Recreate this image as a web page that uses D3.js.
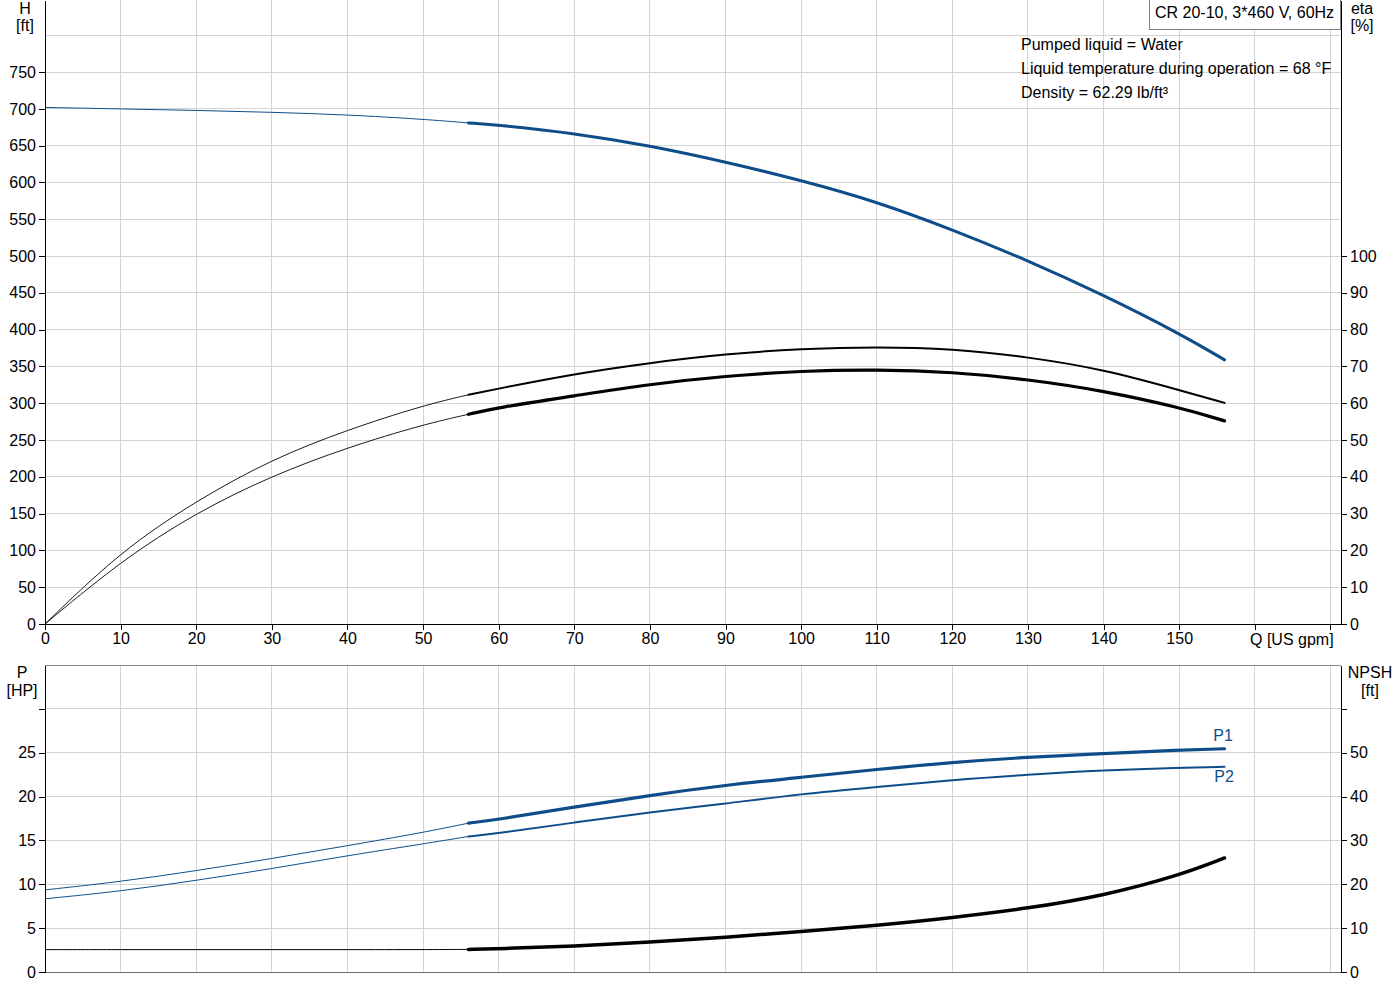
<!DOCTYPE html>
<html>
<head>
<meta charset="utf-8">
<script src="https://cdn.jsdelivr.net/npm/d3@7"></script>
<style>
  body { margin: 0; background: #fff; }
  svg { display: block; font-family: Arial, "Liberation Sans", sans-serif; }
  .grid line { stroke: #d4d4d4; stroke-width: 1; shape-rendering: crispEdges; }
  .axis text { font-size: 16px; fill: #000; font-family: Arial, "Liberation Sans", sans-serif; }
  .axis path, .axis line { stroke: #000; shape-rendering: crispEdges; }
</style>
</head>
<body>
<div id="chart"></div>
<script>
// flow points (US gpm) shared by every curve
const flow = [0, 10, 20, 30, 40, 50, 56, 60, 70, 80, 90, 100, 110, 120, 130, 140, 150, 156];
const head = [702, 700, 698, 695.5, 692, 686, 681, 678, 667, 650, 628, 603, 574, 536, 494, 447, 395, 359];
const etaPump = [0, 19.8, 33.5, 44.8, 52.8, 59.4, 62.3, 64, 68, 71, 73.4, 74.8, 75.3, 74.8, 72.6, 69.2, 63.6, 60.1];
const etaTotal = [0, 17.1, 30.3, 40.3, 48, 54.2, 57, 58.9, 62, 65.2, 67.4, 68.8, 69.2, 68.5, 66.5, 63.4, 58.9, 55.2];
const powerP1 = [9.36, 10.3, 11.54, 12.93, 14.4, 15.9, 16.97, 17.4, 18.8, 20.15, 21.3, 22.2, 23.1, 23.9, 24.5, 24.9, 25.3, 25.45];
const powerP2 = [8.35, 9.2, 10.45, 11.77, 13.27, 14.6, 15.45, 15.8, 17.05, 18.2, 19.2, 20.3, 21.1, 21.9, 22.5, 23.0, 23.3, 23.4];
const npsh = [5.1, 5.1, 5.1, 5.1, 5.1, 5.1, 5.15, 5.3, 5.9, 6.8, 7.9, 9.2, 10.6, 12.4, 14.5, 17.4, 22.0, 26.0];

const opStart = 56; // start of the bold (operating) part of each curve

const qTicks = [0, 10, 20, 30, 40, 50, 60, 70, 80, 90, 100, 110, 120, 130, 140, 150, 160, 170];
const hTicks = [0, 50, 100, 150, 200, 250, 300, 350, 400, 450, 500, 550, 600, 650, 700, 750];
const hGrid = [50, 100, 150, 200, 250, 300, 350, 400, 450, 500, 550, 600, 650, 700, 750, 800];
const etaTicks = [0, 10, 20, 30, 40, 50, 60, 70, 80, 90, 100];
const pTicks = [0, 5, 10, 15, 20, 25, 30];
const npshTicks = [0, 10, 20, 30, 40, 50, 60];

const infoLines = ["Pumped liquid = Water", "Liquid temperature during operation = 68 °F", "Density = 62.29 lb/ft³"];

const blue = "#0f4d8a";
const W = 1400, H = 1000;
const left = 45, right = 1341;
const topY0 = 624, botTop = 665, botY0 = 972;

const svg = d3.select("#chart").append("svg").attr("width", W).attr("height", H);

const x = d3.scaleLinear().domain([0, 171.4]).range([left, right]);
const yH = d3.scaleLinear().domain([0, 848]).range([topY0, 0]);
const yEta = d3.scaleLinear().domain([0, 848 / 5]).range([topY0, 0]);
const yP = d3.scaleLinear().domain([0, 35]).range([botY0, botTop]);
const yN = d3.scaleLinear().domain([0, 70]).range([botY0, botTop]);

// grid
const gTop = svg.append("g").attr("class", "grid");
gTop.selectAll(".v").data(qTicks.slice(1)).enter().append("line")
  .attr("x1", d => x(d)).attr("x2", d => x(d)).attr("y1", 0).attr("y2", topY0);
gTop.selectAll(".h").data(hGrid).enter().append("line")
  .attr("x1", left).attr("x2", right).attr("y1", d => yH(d)).attr("y2", d => yH(d));

const gBot = svg.append("g").attr("class", "grid");
gBot.selectAll(".v").data(qTicks.slice(1)).enter().append("line")
  .attr("x1", d => x(d)).attr("x2", d => x(d)).attr("y1", botTop).attr("y2", botY0);
gBot.selectAll(".h").data(pTicks.slice(1)).enter().append("line")
  .attr("x1", left).attr("x2", right).attr("y1", d => yP(d)).attr("y2", d => yP(d));

// bottom panel frame (top and bottom lines are grey)
svg.append("line").attr("x1", left).attr("x2", right).attr("y1", botTop + 0.5).attr("y2", botTop + 0.5)
  .attr("stroke", "#8a8a8a");
svg.append("line").attr("x1", left).attr("x2", right).attr("y1", botY0 + 0.5).attr("y2", botY0 + 0.5)
  .attr("stroke", "#6a6a6a");

// curves: thin below the operating range, bold inside it
function drawCurve(values, yScale, color, thinW, boldW) {
  const pts = flow.map((q, i) => [q, values[i]]);
  const line = d3.line().x(d => x(d[0])).y(d => yScale(d[1])).curve(d3.curveBasis);
  svg.append("path").datum(pts.filter(d => d[0] <= opStart))
    .attr("d", line).attr("fill", "none").attr("stroke", color).attr("stroke-width", thinW);
  svg.append("path").datum(pts.filter(d => d[0] >= opStart))
    .attr("d", line).attr("fill", "none").attr("stroke", color).attr("stroke-width", boldW)
    .attr("stroke-linecap", "round");
}

drawCurve(head, yH, blue, 1, 3);
drawCurve(etaPump, yEta, "#000", 0.9, 2);
drawCurve(etaTotal, yEta, "#000", 0.9, 3.2);
drawCurve(powerP1, yP, blue, 1, 3.2);
drawCurve(powerP2, yP, blue, 1, 2);
drawCurve(npsh, yN, "#000", 1, 3.5);

// axes - top panel
svg.append("g").attr("class", "axis").attr("transform", `translate(${left},0)`)
  .call(d3.axisLeft(yH).tickValues(hTicks).tickSizeOuter(0));
svg.append("g").attr("class", "axis").attr("transform", `translate(${right},0)`)
  .call(d3.axisRight(yEta).tickValues(etaTicks).tickSizeOuter(0));
svg.append("g").attr("class", "axis").attr("transform", `translate(0,${topY0})`)
  .call(d3.axisBottom(x).tickValues(qTicks).tickSizeOuter(0).tickFormat(d => d <= 150 ? d : ""));

// axes - bottom panel
svg.append("g").attr("class", "axis").attr("transform", `translate(${left},0)`)
  .call(d3.axisLeft(yP).tickValues(pTicks).tickSizeOuter(0).tickFormat(d => d <= 25 ? d : ""));
svg.append("g").attr("class", "axis").attr("transform", `translate(${right},0)`)
  .call(d3.axisRight(yN).tickValues(npshTicks).tickSizeOuter(0).tickFormat(d => d <= 50 ? d : ""));

// axis titles
function label(txt, tx, ty, anchor, color) {
  svg.append("text").attr("x", tx).attr("y", ty).attr("text-anchor", anchor || "middle")
    .attr("font-size", 16).attr("fill", color || "#000").text(txt);
}
label("H", 25, 14);
label("[ft]", 25, 31);
label("eta", 1362, 14);
label("[%]", 1362, 31);
label("P", 22, 678);
label("[HP]", 22, 696);
label("NPSH", 1370, 678);
label("[ft]", 1370, 696);
label("Q [US gpm]", 1250, 645, "start");

label("P1", 1223, 741, "middle", blue);
label("P2", 1224, 782, "middle", blue);

// title box
svg.append("rect").attr("x", 1149.5).attr("y", -1).attr("width", 191).attr("height", 30.5)
  .attr("fill", "#fff").attr("stroke", "#808080");
label("CR 20-10, 3*460 V, 60Hz", 1155, 18, "start");

// liquid info
svg.selectAll(".info").data(infoLines).enter().append("text")
  .attr("x", 1021).attr("y", (d, i) => 50 + i * 24)
  .attr("font-size", 16).attr("fill", "#000").text(d => d);
</script>
</body>
</html>
